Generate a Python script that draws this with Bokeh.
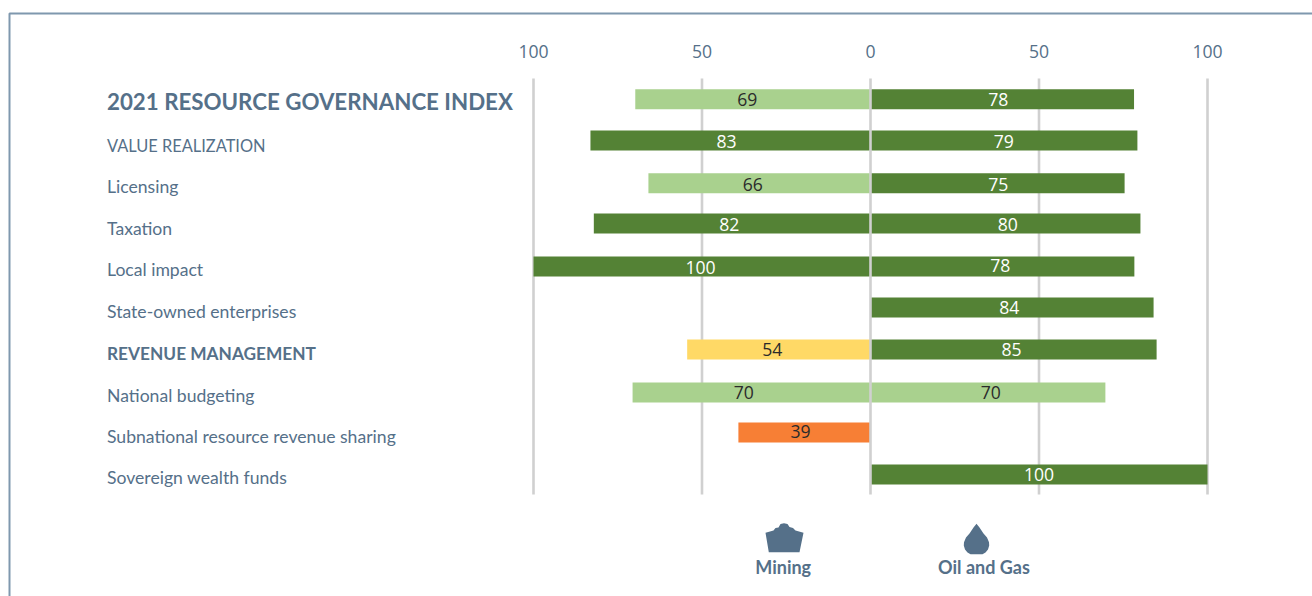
from bokeh.plotting import figure
from bokeh.embed import file_html
from bokeh.resources import INLINE
from bokeh.models import LinearAxis, FixedTicker, Range1d
from bokeh.core.properties import value

rows = ["2021 RESOURCE GOVERNANCE INDEX", "VALUE REALIZATION", "Licensing", "Taxation",
        "Local impact", "State-owned enterprises", "REVENUE MANAGEMENT", "National budgeting",
        "Subnational resource revenue sharing", "Sovereign wealth funds"]
mining_scores = [69, 83, 66, 82, 100, None, 54, 70, 39, None]
mining_bars = [69.8, 83.1, 65.9, 82.1, 100, None, 54.4, 70.6, 39.2, None]
oil_scores = [78, 79, 75, 80, 78, 84, 85, 70, None, 100]
oil_bars = [78.2, 79.2, 75.4, 80.1, 78.3, 84, 84.9, 69.7, None, 100]
tick_values = [-100, -50, 0, 50, 100]
tick_labels = {-100: "100", -50: "50", 0: "0", 50: "50", 100: "100"}

# layout, in pixels
row_font_sizes = ["22.3px", "16.4px", "17.6px", "17.6px", "17.6px", "17.6px", "17.3px", "17.6px", "17.6px", "17.6px"]
row_centres = [98.7, 140, 182.8, 223, 266, 307, 349, 392, 432, 474]
row_label_y = [100.7, 145.2, 185.8, 228.0, 269.3, 310.8, 353, 394.5, 436.0, 476.9]
mining_label_pos = [(746.7, 98.7), (726, 140.7), (752.3, 184), (728.7, 223.7), (700, 266.7), None,
                    (771.7, 349), (743.3, 391.7), (800, 431), None]
oil_label_pos = [(997.7, 99.3), (1003.3, 140.7), (997.7, 184), (1007.3, 223.7), (999.7, 265), (1008.7, 306.7),
                 (1011, 349), (990.3, 391.7), None, (1038.5, 474)]

SLATE = "#557089"
DARK, LIGHT, YELLOW, ORANGE = "#548235", "#A9D18E", "#FFD966", "#F77F35"
GRID = "#D0D0D0"

def band(score):
    if score >= 75: return DARK
    if score >= 60: return LIGHT
    if score >= 45: return YELLOW
    return ORANGE

def ink(score):
    return "#FFFFFF" if score >= 75 else "#2B2B2B"

W, H = 1312, 596
X0, XS = 870.0, 3.37      # canvas px of zero, px per score point
Y0, YS = 98.7, 41.7       # canvas px of first row, px per row
x_range = Range1d(-X0 / XS, (W - X0) / XS)
y_range = Range1d((H - Y0) / YS, -Y0 / YS)

def fx(px): return (px - X0) / XS
def fy(py): return (py - Y0) / YS

p = figure(width=W, height=H, x_range=x_range, y_range=y_range, output_backend="svg",
           toolbar_location=None, min_border=0, x_axis_location=None, y_axis_location=None,
           outline_line_color=None, background_fill_color="white", border_fill_color="white")
p.grid.visible = False

# frame line of the panel
border_x = [fx(9), fx(9), fx(1312)]
border_y = [fy(596), fy(13), fy(13)]
p.line(border_x, border_y, line_color="#7F98AE", line_width=2)

# grid lines
grid_top, grid_bottom = fy(78), fy(494)
side_ticks = [t for t in tick_values if t != 0]
p.segment(x0=side_ticks, x1=side_ticks, y0=[grid_top] * 4, y1=[grid_bottom] * 4,
          line_color=GRID, line_width=2.6)

# bars
m_idx = [i for i, v in enumerate(mining_bars) if v is not None]
o_idx = [i for i, v in enumerate(oil_bars) if v is not None]
bar_h = 20 / YS
p.hbar(y=[fy(row_centres[i]) for i in m_idx], left=[-mining_bars[i] for i in m_idx], right=0, height=bar_h,
       fill_color=[band(mining_scores[i]) for i in m_idx], line_color=None)
p.hbar(y=[fy(row_centres[i]) for i in o_idx], left=0, right=[oil_bars[i] for i in o_idx], height=bar_h,
       fill_color=[band(oil_scores[i]) for i in o_idx], line_color=None)

# zero line over the bars
p.segment(x0=[0], x1=[0], y0=[grid_top], y1=[grid_bottom], line_color=GRID, line_width=2.6)

# value labels
p.text(x=[fx(mining_label_pos[i][0]) for i in m_idx], y=[fy(mining_label_pos[i][1]) for i in m_idx],
       text=[str(mining_scores[i]) for i in m_idx],
       text_font=value("Open Sans"), text_font_size="17.6px", text_align="center", text_baseline="middle",
       text_color=[ink(mining_scores[i]) for i in m_idx])
p.text(x=[fx(oil_label_pos[i][0]) for i in o_idx], y=[fy(oil_label_pos[i][1]) for i in o_idx],
       text=[str(oil_scores[i]) for i in o_idx],
       text_font=value("Open Sans"), text_font_size="17.6px", text_align="center", text_baseline="middle",
       text_color=[ink(oil_scores[i]) for i in o_idx])

# row labels
x_lab = fx(106.5)
for i, label in enumerate(rows):
    bold = i in (0, 6)
    p.text(x=[x_lab], y=[fy(row_label_y[i])], text=[label], text_font=value("Lato"),
           text_font_size=row_font_sizes[i],
           text_font_style="bold" if bold else "normal",
           text_align="left", text_baseline="middle", text_color=SLATE)

# top axis
axis = LinearAxis(fixed_location=grid_top, ticker=FixedTicker(ticks=tick_values),
                  major_label_overrides=tick_labels, axis_line_color=None,
                  major_tick_line_color=None, minor_tick_line_color=None,
                  major_label_text_color=SLATE, major_label_text_font="Open Sans",
                  major_label_text_font_size="17.6px", major_label_standoff=15)
p.add_layout(axis, "above")

# legend icons
mine_px = [(768.3, 551.7), (765, 532.3), (773, 530), (775, 527.5), (778, 527), (780, 523.5), (783.5, 522.7), (787, 523.5),
           (789, 526.5), (792.5, 527.5), (795, 530), (803, 532.3), (799, 551.7)]
drop_px = [(976, 523.3), (979, 527), (983, 533), (986.5, 537), (988.5, 541.7), (988.7, 545), (987.5, 549), (985, 552),
           (982, 553.8), (970, 553.8), (967, 552), (964.5, 549), (963.3, 545), (963.5, 541.7), (965.5, 537), (969, 533), (973, 527)]
p.patch([fx(a) for a, b in mine_px], [fy(b) for a, b in mine_px], fill_color=SLATE, line_color=None)
p.patch([fx(a) for a, b in drop_px], [fy(b) for a, b in drop_px], fill_color=SLATE, line_color=None)
p.text(x=[fx(782.7), fx(983.5)], y=[fy(566.5), fy(566.5)], text=["Mining", "Oil and Gas"], text_font=value("Lato"),
       text_font_size="18px", text_font_style="bold", text_align="center", text_baseline="middle", text_color=SLATE)

open("out.html", "w").write(file_html(p, INLINE))
